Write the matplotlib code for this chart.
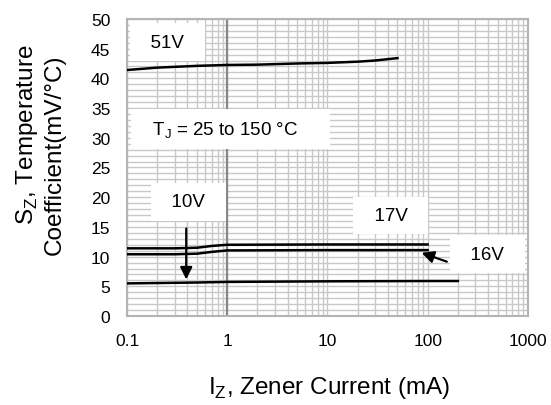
import matplotlib
matplotlib.use("Agg")
import matplotlib.pyplot as plt
from matplotlib.ticker import FixedLocator, LogLocator, MultipleLocator, NullFormatter

plt.rcParams["font.family"] = ["Liberation Sans", "DejaVu Sans"]
plt.rcParams["mathtext.fontset"] = "custom"
plt.rcParams["mathtext.rm"] = "Liberation Sans"

# curve data (Iz in mA, Sz in mV/C)
x_51v = [0.1, 0.2, 0.5, 1, 2, 5, 10, 20, 30, 50]
y_51v = [41.4, 41.8, 42.1, 42.25, 42.3, 42.5, 42.6, 42.8, 43.0, 43.4]

x_17v = [0.1, 0.3, 0.5, 0.7, 1, 10, 100]
y_17v = [11.4, 11.4, 11.5, 11.8, 12.0, 12.05, 12.05]

x_16v = [0.1, 0.3, 0.5, 0.7, 1, 10, 100]
y_16v = [10.4, 10.4, 10.5, 10.8, 11.05, 11.1, 11.1]

x_10v = [0.1, 0.5, 1, 10, 100, 200]
y_10v = [5.5, 5.65, 5.75, 5.85, 5.9, 5.9]

x_ticks = [0.1, 1, 10, 100, 1000]
x_tick_labels = ["0.1", "1", "10", "100", "1000"]
y_ticks = list(range(0, 51, 5))

fig = plt.figure(figsize=(5.51, 4.06), dpi=100)
ax = fig.add_axes([0.2305, 0.219, 0.7275, 0.732])

ax.set_xscale("log")
ax.set_xlim(0.1, 1000)
ax.set_ylim(0, 50)

# grid
ax.xaxis.set_major_locator(FixedLocator(x_ticks))
ax.set_xticklabels(x_tick_labels)
ax.xaxis.set_minor_locator(LogLocator(base=10, subs=range(2, 10)))
ax.xaxis.set_minor_formatter(NullFormatter())
ax.set_yticks(y_ticks)
ax.yaxis.set_minor_locator(MultipleLocator(1))
ax.grid(True, which="both", color="#c8c8c8", linewidth=1.0)
ax.axvline(1, color="#888888", linewidth=1.6, zorder=1.5)
ax.set_axisbelow(True)
for s in ax.spines.values():
    s.set_color("#b4b4b4")
    s.set_linewidth(1.5)
ax.tick_params(which="both", length=0, labelsize=12.5)
ax.tick_params(axis="x", pad=12)
ax.tick_params(axis="y", pad=12)

# curves
for xs, ys in [(x_51v, y_51v), (x_17v, y_17v), (x_16v, y_16v), (x_10v, y_10v)]:
    ax.plot(xs, ys, color="black", linewidth=1.8, zorder=3)

# labels with white boxes
box = dict(boxstyle="square,pad=0.55", facecolor="white", edgecolor="none")
lbl = dict(fontsize=13.5, ha="center", va="center", bbox=box, zorder=2, clip_on=True)
ax.text(0.254, 46.1, "  51V  ", **lbl)
ax.text(1.08, 31.5, r"  T$\mathregular{_J}$ = 25 to 150 °C     ", **lbl)
ax.text(0.41, 19.2, "  10V  ", **lbl)
ax.text(43, 16.9, "  17V  ", **lbl)
ax.text(395, 10.4, "  16V  ", **lbl)

# arrows
ax.annotate("", xy=(0.39, 5.7), xytext=(0.39, 15.2),
            arrowprops=dict(arrowstyle="-|>", color="black", lw=1.6, mutation_scale=18), zorder=4)
ax.annotate("", xy=(82, 10.8), xytext=(165, 9.0),
            arrowprops=dict(arrowstyle="-|>", color="black", lw=1.6, mutation_scale=18), zorder=4)

# axis titles
fig.text(329.5 / 551, 1 - 394 / 406, r"I$_\mathregular{Z}$, Zener Current (mA)",
         fontsize=17.5, ha="center", va="baseline")
fig.text(33 / 551, 1 - 135 / 406, r"S$_\mathregular{Z}$, Temperature",
         fontsize=17.5, rotation=90, rotation_mode="anchor", ha="center", va="baseline")
fig.text(61 / 551, 1 - 155 / 406, "Coefficient(mV/°C)",
         fontsize=17.5, rotation=90, rotation_mode="anchor", ha="center", va="baseline")

fig.savefig("out.png", dpi=100)
